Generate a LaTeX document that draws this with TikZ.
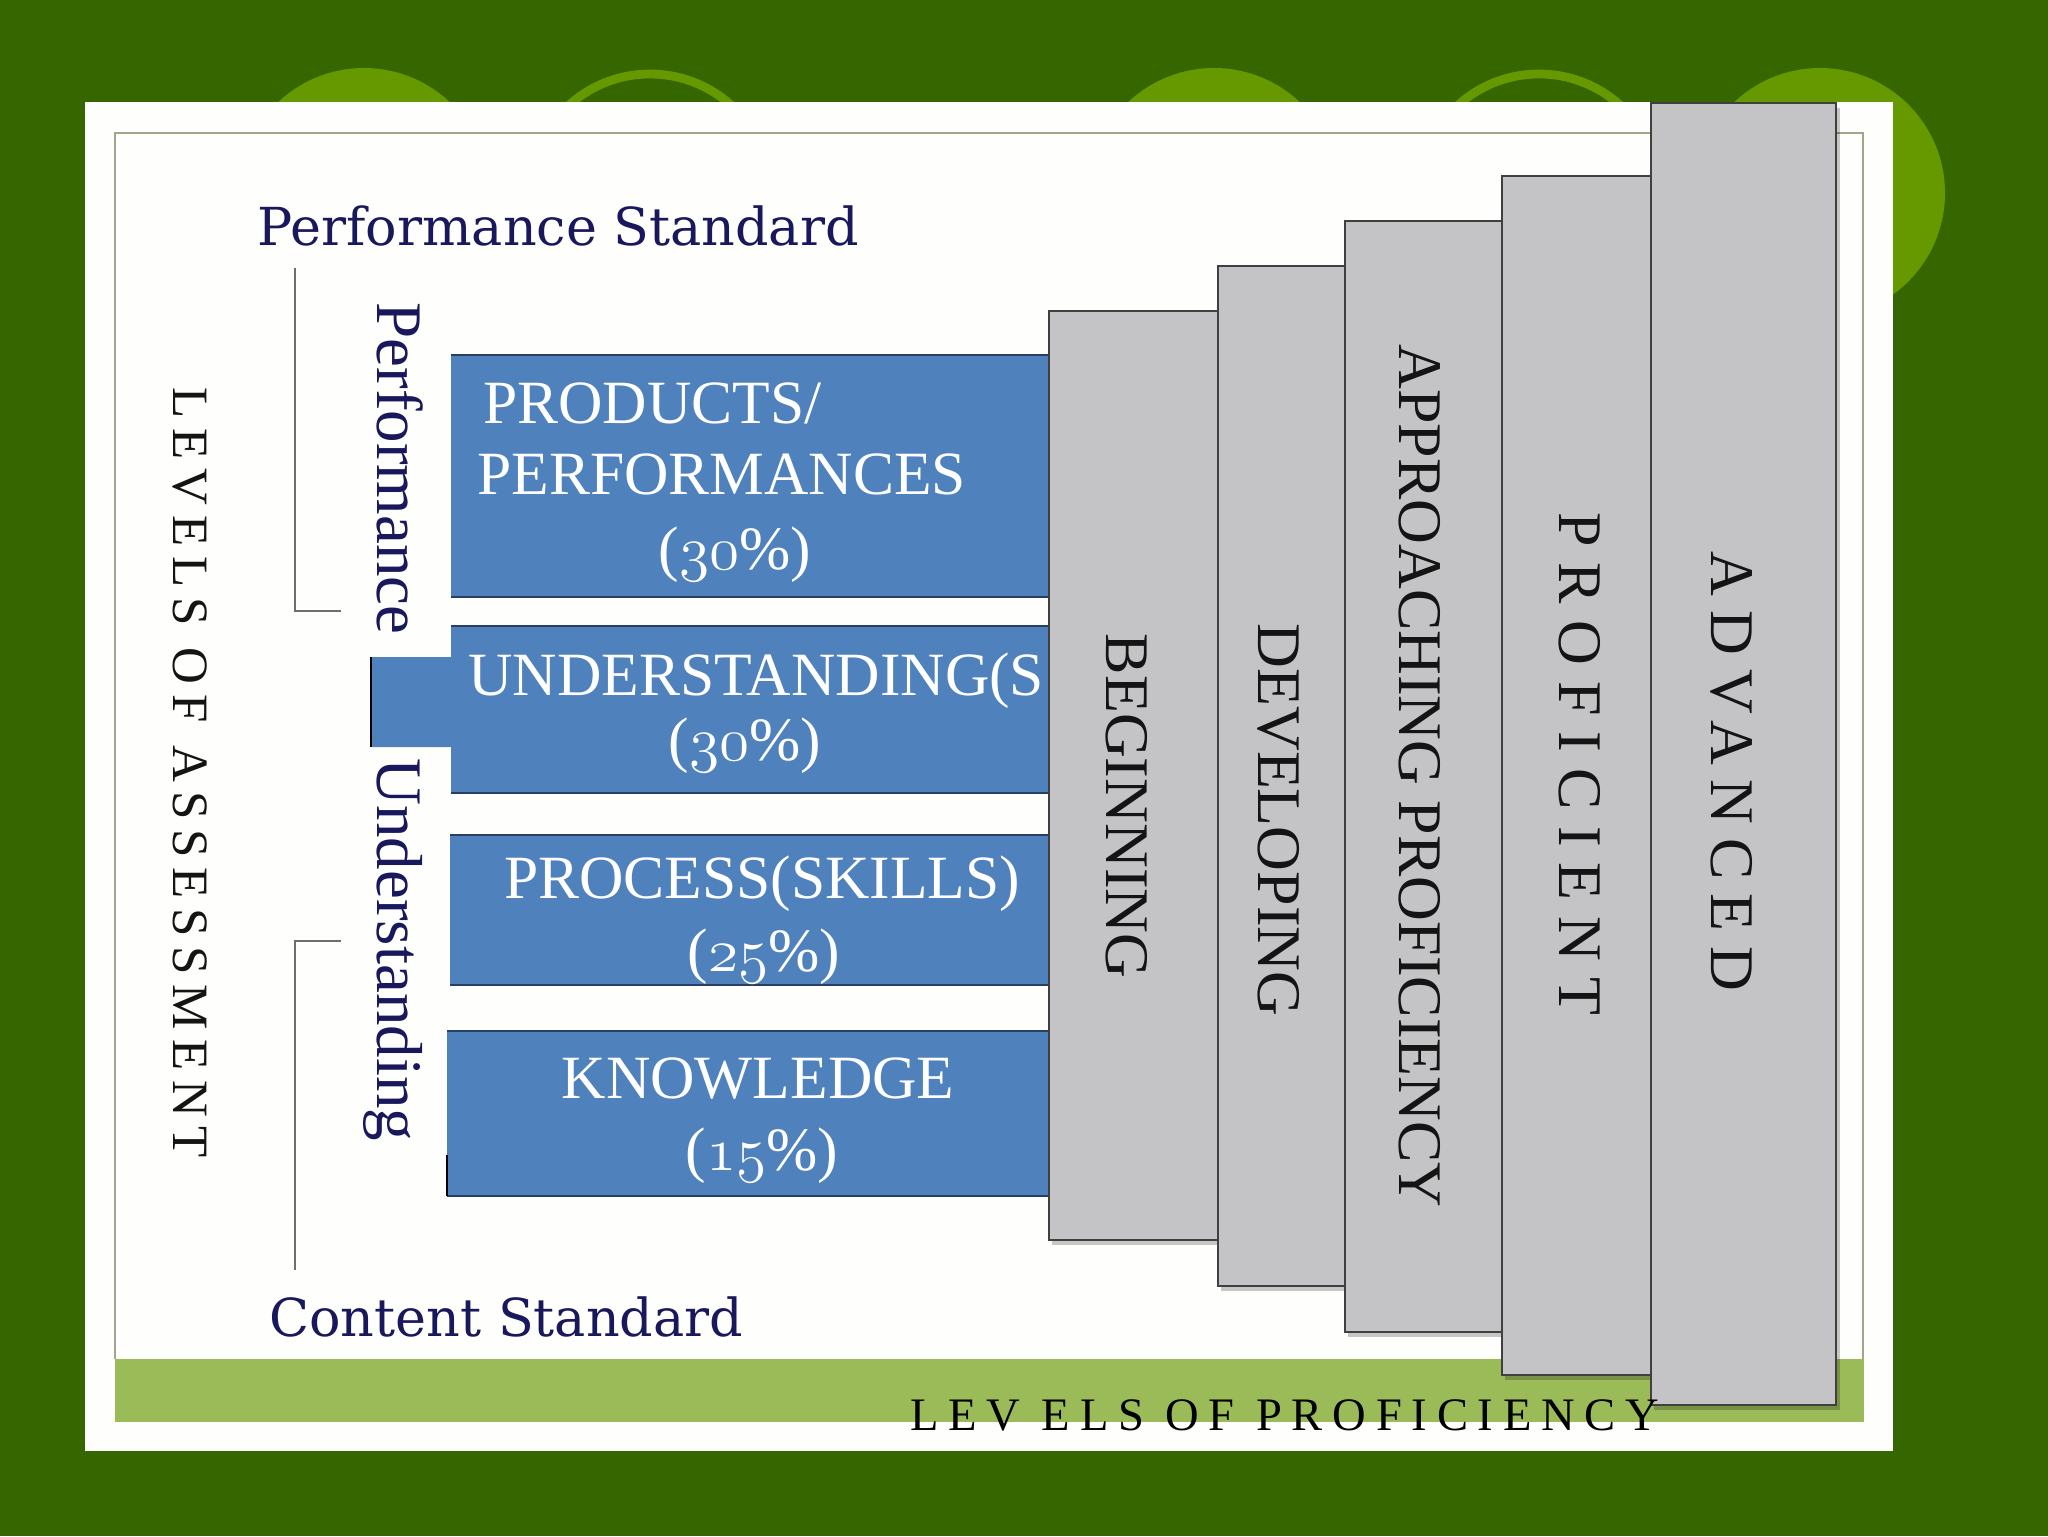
\documentclass[tikz,border=0pt]{standalone}
\usepackage{fix-cm}
\usepackage{fontspec}
\setmainfont{Liberation Serif}
\newfontfamily\titlefont{DejaVu Serif}
\usepackage{tikz}
\definecolor{bgdark}{RGB}{53,102,0}
\definecolor{lightgreen}{RGB}{102,153,0}
\definecolor{cardwhite}{RGB}{254,254,252}
\definecolor{frameline}{RGB}{160,165,140}
\definecolor{bandgreen}{RGB}{155,187,89}
\definecolor{boxblue}{RGB}{79,129,189}
\definecolor{boxline}{RGB}{40,62,98}
\definecolor{bargray}{RGB}{196,196,198}
\definecolor{baredge}{RGB}{64,64,64}
\definecolor{navy}{RGB}{26,24,92}
\definecolor{darktext}{RGB}{20,20,20}
\definecolor{bracketgray}{RGB}{110,110,110}
\newcommand{\osnum}[1]{{\fontencoding{OML}\fontfamily{cmm}\fontseries{m}\fontshape{it}\selectfont #1}}
\newcommand{\pct}[1]{(\osnum{#1}\%)}
\tikzstyle{bluebox} = [fill=boxblue]
\tikzstyle{boxedge} = [draw=boxline, line width=1.5pt]
\tikzstyle{bar} = [fill=bargray, draw=baredge, line width=1.6pt]
\tikzstyle{barshadow} = [fill=black, opacity=0.22]
\tikzstyle{bracket} = [draw=bracketgray, line width=1.6pt]
\tikzstyle{boxtext} = [text=white, inner sep=0pt, font=\fontsize{35}{40}\selectfont]
\tikzstyle{bartext} = [text=darktext, inner sep=0pt, rotate=-90, font=\fontsize{35.3}{40}\selectfont]
\tikzstyle{sidetext} = [text=navy, inner sep=0pt, rotate=-90, font=\fontsize{37}{40}\selectfont]
\tikzstyle{title} = [text=navy, inner sep=0pt, font=\titlefont\fontsize{29.8}{34}\selectfont]

\begin{document}
\begin{tikzpicture}[x=0.02cm, y=-0.02cm]
\useasboundingbox (0,0) rectangle (2048,1536);
\fill[bgdark] (0,0) rectangle (2048,1536);
% background circles
\fill[lightgreen] (364,193) circle[radius=125];
\draw[lightgreen, line width=5pt] (650,195) circle[radius=121];
\fill[lightgreen] (1214,193) circle[radius=125];
\draw[lightgreen, line width=5pt] (1539,195) circle[radius=121];
\fill[lightgreen] (1820,193) circle[radius=125];
% card and frame
\fill[cardwhite] (85,102) rectangle (1893,1451);
\draw[frameline, line width=1.5pt] (115,1359) |- (1863,133) -- (1863,1359);
\fill[bandgreen] (115,1359) rectangle (1864,1422);

% left side
\node[title, anchor=base west] (perfstd) at (257,245) {Performance Standard};
\node[title, anchor=base west] (contstd) at (269,1336) {Content Standard};
\coordinate (bt1) at (295,268);
\coordinate (bt2) at (341,611);
\coordinate (bb1) at (341,941);
\coordinate (bb2) at (295,1270);
\draw[bracket] (bt1) |- (bt2);
\draw[bracket] (bb1) -| (bb2);
\node[sidetext, anchor=base west] (perfside) at (377,302) {Performance};
\node[sidetext, anchor=base west] (undside) at (377,758) {Understanding};
\node[sidetext, text=darktext, anchor=base west, font=\fontsize{29}{32}\selectfont\addfontfeature{LetterSpace=19}] (assess) at (173,387) {LEVELS OF ASSESSMENT};

% blue boxes
\fill[bluebox] (451,355) rectangle (1050,597);
\draw[boxedge] (451,355) -- (1050,355);
\draw[boxedge] (451,597) -- (1050,597);
\fill[bluebox] (451,626) -- (1050,626) -- (1050,793) -- (451,793) -- (451,747) -- (371,747) -- (371,657) -- (451,657) -- cycle;
\draw[boxedge] (451,626) -- (1050,626);
\draw[boxedge] (451,793) -- (1050,793);
\draw[black, line width=1.5pt] (371,657) -- (371,747);
\fill[bluebox] (450,835) rectangle (1050,985);
\draw[boxedge] (450,835) -- (1050,835);
\draw[boxedge] (450,985) -- (1050,985);
\fill[bluebox] (447,1031) rectangle (1050,1196);
\draw[boxedge] (447,1031) -- (1050,1031);
\draw[boxedge] (447,1196) -- (1050,1196);
\draw[black, line width=1.5pt] (447,1155) -- (447,1196);
\node[boxtext, anchor=base west] (products) at (483,423) {PRODUCTS/};
\node[boxtext, anchor=base west] (performances) at (477,494) {PERFORMANCES};
\node[boxtext] (prodpct) at (735,555) {\pct{30}};
\node[boxtext, anchor=base west] (understanding) at (468,695) {UNDERSTANDING(S};
\node[boxtext] (undpct) at (745,746) {\pct{30}};
\node[boxtext, anchor=base] (process) at (762,898) {PROCESS(SKILLS)};
\node[boxtext] (procpct) at (764,957) {\pct{25}};
\node[boxtext, anchor=base] (knowledge) at (758,1098) {KNOWLEDGE};
\node[boxtext] (knowpct) at (762,1156) {\pct{15}};

% proficiency bars
\fill[barshadow] (1052,316) rectangle (1222,1245);
\draw[bar] (1049,311) rectangle (1218,1240);
\fill[barshadow] (1221,271) rectangle (1349,1291);
\draw[bar] (1218,266) rectangle (1345,1286);
\fill[barshadow] (1348,226) rectangle (1506,1337);
\draw[bar] (1345,221) rectangle (1502,1332);
\fill[barshadow] (1505,181) rectangle (1655,1380);
\draw[bar] (1502,176) rectangle (1651,1375);
\fill[barshadow] (1654,108) rectangle (1840,1410);
\draw[bar] (1651,103) rectangle (1836,1405);
\node[bartext] (beginning) at (1127,806) {BEGINNING};
\node[bartext] (developing) at (1279,820) {DEVELOPING};
\node[bartext] (approaching) at (1420,776) {APPROACHING PROFICIENCY};
\node[bartext, font=\fontsize{35.3}{40}\selectfont\addfontfeature{LetterSpace=26}] (proficient) at (1580,764) {PROFICIENT};
\node[bartext, font=\fontsize{35.3}{40}\selectfont\addfontfeature{LetterSpace=23}] (advanced) at (1732,771) {ADVANCED};
\node[text=black, inner sep=0pt, anchor=base west, font=\fontsize{26.5}{30}\selectfont\addfontfeature{LetterSpace=21}] (levelsprof) at (910,1430) {LEV ELS OF PROFICIENCY};
\end{tikzpicture}
\end{document}
